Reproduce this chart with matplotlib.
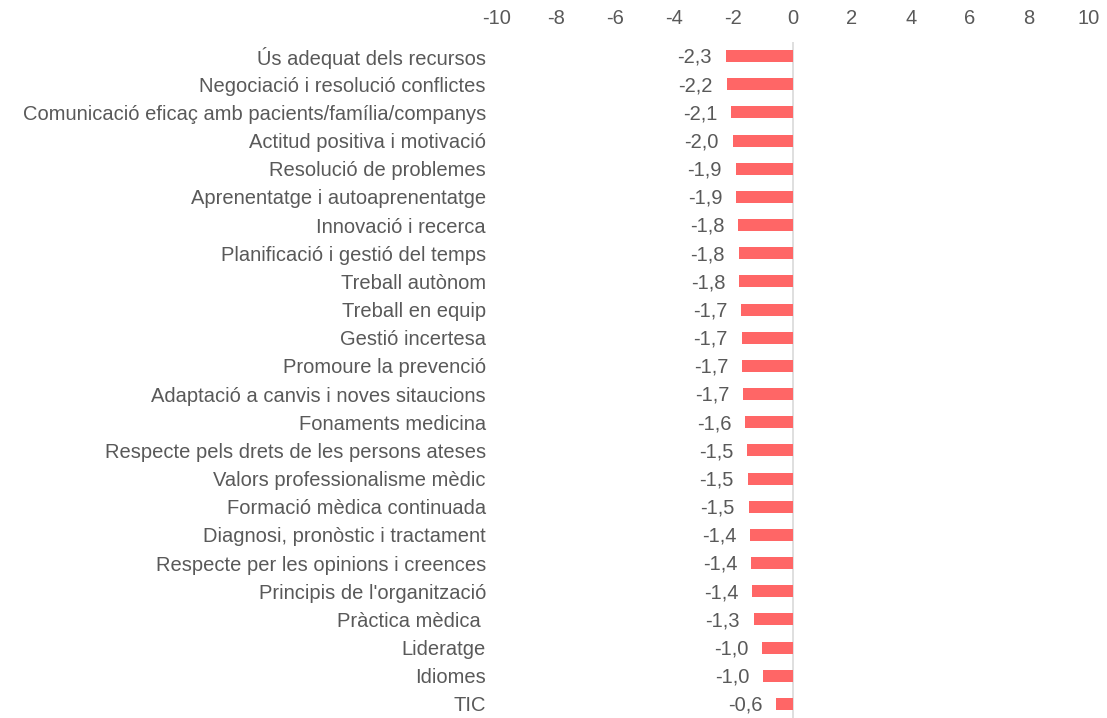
import matplotlib.pyplot as plt
import numpy as np

# competencies, top to bottom as in the chart
competencies = [
    "Ús adequat dels recursos",
    "Negociació i resolució conflictes",
    "Comunicació eficaç amb pacients/família/companys",
    "Actitud positiva i motivació",
    "Resolució de problemes",
    "Aprenentatge i autoaprenentatge",
    "Innovació i recerca",
    "Planificació i gestió del temps",
    "Treball autònom",
    "Treball en equip",
    "Gestió incertesa",
    "Promoure la prevenció",
    "Adaptació a canvis i noves sitaucions",
    "Fonaments medicina",
    "Respecte pels drets de les persons ateses",
    "Valors professionalisme mèdic",
    "Formació mèdica continuada",
    "Diagnosi, pronòstic i tractament",
    "Respecte per les opinions i creences",
    "Principis de l'organització",
    "Pràctica mèdica ",
    "Lideratge",
    "Idiomes",
    "TIC",
]
# differences
differences = [-2.27, -2.23, -2.07, -2.03, -1.93, -1.90, -1.84, -1.83, -1.80,
               -1.74, -1.72, -1.70, -1.68, -1.60, -1.53, -1.52, -1.49, -1.43,
               -1.40, -1.37, -1.32, -1.02, -1.00, -0.56]
xticks = [-10, -8, -6, -4, -2, 0, 2, 4, 6, 8, 10]

plt.rcParams['font.family'] = ['Liberation Sans', 'DejaVu Sans']
textColor = '#595959'
barColor = '#FF6666'
fs = 14.5

fig = plt.figure(figsize=(11.07, 7.18), dpi=100)
ax = fig.add_axes([0.449, 0.0, 0.534, 0.9415])

y = np.arange(len(competencies))
ax.barh(y, differences, height=0.43, color=barColor, zorder=2)
ax.axvline(0, color='#D9D9D9', linewidth=1.2, zorder=1)

# value labels to the left of each bar
for yi, v in zip(y, differences):
    ax.annotate('{:.1f}'.format(v).replace('.', ','), (v, yi), xytext=(-10, -1),
                textcoords='offset points', ha='right', va='center',
                fontsize=fs, color=textColor)

ax.set_xlim(-10, 10)
ax.set_ylim(len(competencies) - 0.5, -0.5)
ax.set_xticks(xticks)
ax.set_xticklabels([str(t) for t in xticks])
ax.set_yticks(y)
ax.set_yticklabels(competencies)
ax.xaxis.tick_top()
ax.tick_params(axis='x', length=0, pad=10, labelsize=fs, labelcolor=textColor)
ax.tick_params(axis='y', length=0, pad=8, labelsize=fs, labelcolor=textColor)
for s in ax.spines.values():
    s.set_visible(False)

fig.savefig('out.png', dpi=100)
